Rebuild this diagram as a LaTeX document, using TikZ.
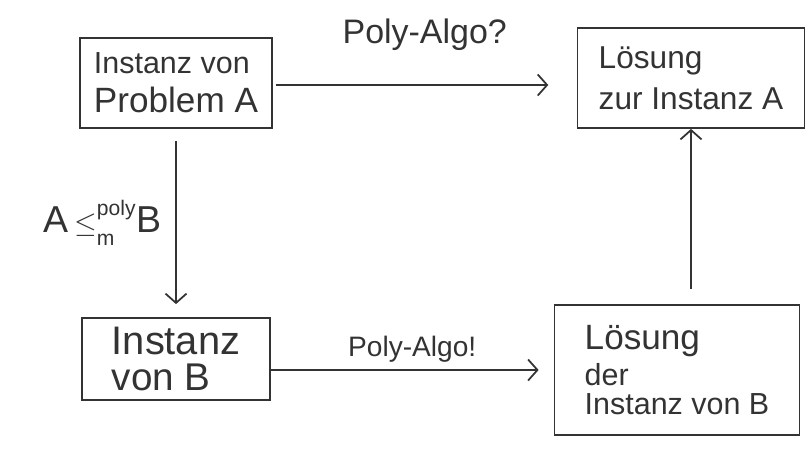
\documentclass[tikz,border=0pt]{standalone}
\usepackage{fontspec}
\setmainfont{Liberation Sans}
\usetikzlibrary{arrows.meta}
\newcommand{\fs}[1]{\fontsize{#1}{#1}\selectfont}
\begin{document}
\begin{tikzpicture}[line width=1.5pt,black!80,
    box/.style={draw,align=left,inner sep=0pt},
    pfeil/.style={-{Straight Barb[length=8pt,width=18pt]}}]
  \useasboundingbox (0,0) rectangle (24.27,-13.62);

  % Kaesten
  \node[box,minimum width=5.76cm,minimum height=2.7cm] (probA) at (5.28,-2.49)
    {\fs{26}Instanz von\\[10pt]\fs{30}Problem A};
  \node[box,minimum width=6.81cm,minimum height=3cm] (solA) at (20.73,-2.34)
    {\fs{27}Lösung\\[10pt]\fs{27}zur Instanz A};
  \node[box,minimum width=5.64cm,minimum height=2.46cm] (instB) at (5.28,-10.77)
    {\fs{34}Instanz\\[7pt]\fs{33}von B};
  \node[box,minimum width=7.35cm,minimum height=3.9cm] (solB) at (20.31,-11.1)
    {\fs{30}Lösung\\[5pt]\fs{26}der\\[6pt]\fs{26}Instanz von B};

  % Pfeile
  \draw[pfeil,shorten <=3pt,shorten >=0.85cm] (probA.east |- 0,-2.55) -- (solA.west |- 0,-2.55)
    node[midway,above=0.9cm] (algoA) {\fs{29}Poly-Algo?};
  \draw[pfeil,shorten <=0.36cm,shorten >=0.39cm] (probA.south) -- (instB.north)
    node[midway,left=0.3cm] (red)
    {\fs{32}A\,$\leq^{\raisebox{5pt}{\fs{18}poly}}_{\raisebox{-5pt}{\fs{18}m}}$B};
  \draw[pfeil,shorten >=0.45cm] (solB.west -| instB.east) -- (solB.west)
    node[midway,above=0.1cm] (algoB) {\fs{24}Poly-Algo!};
  \draw[pfeil,shorten <=0.45cm] (solB.north -| solA.south) -- (solA.south);
\end{tikzpicture}
\end{document}
